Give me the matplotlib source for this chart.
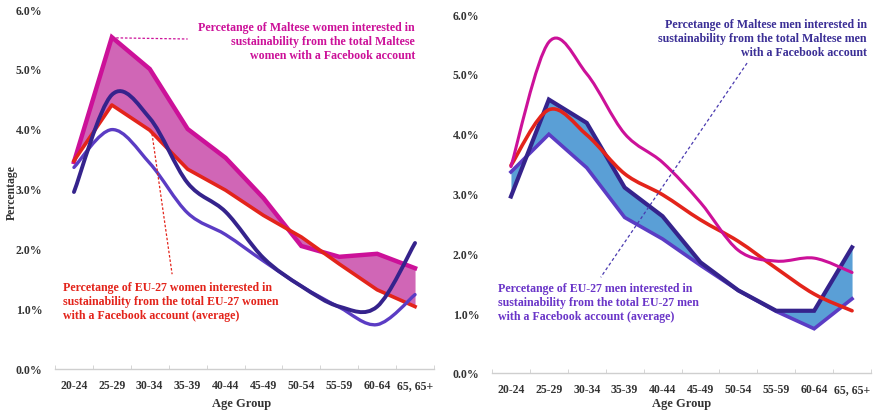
import numpy as np
import matplotlib
matplotlib.use("Agg")
import matplotlib.pyplot as plt
from matplotlib.path import Path
from matplotlib.patches import PathPatch

plt.rcParams['font.family'] = ['Liberation Serif', 'DejaVu Serif']
plt.rcParams['font.weight'] = 'bold'

age_groups = ["20-24", "25-29", "30-34", "35-39", "40-44", "45-49",
              "50-54", "55-59", "60-64", "65, 65+"]
maltese_women = [3.45, 5.53, 5.00, 4.00, 3.52, 2.85, 2.05, 1.87, 1.92, 1.68]
eu_women = [3.47, 4.40, 3.98, 3.33, 2.98, 2.56, 2.20, 1.75, 1.32, 1.04]
maltese_men = [2.95, 4.57, 4.18, 3.10, 2.62, 1.85, 1.38, 1.04, 1.04, 2.10]
eu_men = [3.36, 3.99, 3.43, 2.60, 2.24, 1.80, 1.38, 1.03, 0.74, 1.24]
y_ticks = [0, 1, 2, 3, 4, 5, 6]
y_tick_labels = ["0.0%", "1.0%", "2.0%", "3.0%", "4.0%", "5.0%", "6.0%"]

MAGENTA = "#CC1199"
PINK_FILL = "#D066B6"
RED = "#E3241B"
NAVY = "#35238C"
PURPLE = "#5B3CC4"
BLUE_FILL = "#5A9FD6"
AXIS_TXT = "#333333"


def smooth_line(ax, xs, ys, color, lw, z):
    """Catmull-Rom smoothed line drawn as a Bezier path in data coords."""
    pts = np.column_stack([xs, ys]).astype(float)
    n = len(pts)
    verts = [pts[0]]
    codes = [Path.MOVETO]
    for i in range(n - 1):
        p0 = pts[i - 1] if i > 0 else pts[i]
        p1 = pts[i]
        p2 = pts[i + 1]
        p3 = pts[i + 2] if i + 2 < n else pts[i + 1]
        c1 = p1 + (p2 - p0) / 6.0
        c2 = p2 - (p3 - p1) / 6.0
        verts += [c1, c2, p2]
        codes += [Path.CURVE4] * 3
    patch = PathPatch(Path(verts, codes), facecolor='none', edgecolor=color,
                      lw=lw, zorder=z, capstyle='round', joinstyle='round')
    ax.add_patch(patch)


fig = plt.figure(figsize=(8.74, 4.14), dpi=100)
W, H = 874.0, 414.0
ax1 = fig.add_axes([55 / W, (H - 370) / H, (434 - 55) / W, (370 - 10) / H])
ax2 = fig.add_axes([492 / W, (H - 374) / H, (871 - 492) / W, (374 - 15) / H])

x = np.arange(len(age_groups))

for ax in (ax1, ax2):
    ax.set_xlim(-0.5, len(age_groups) - 0.5)
    ax.set_ylim(0, 6)
    for s in ['top', 'right', 'left']:
        ax.spines[s].set_visible(False)
    ax.spines['bottom'].set_color('#CFCFCF')
    ax.spines['bottom'].set_linewidth(1.0)
    ax.set_yticks(y_ticks)
    ax.set_yticklabels(y_tick_labels)
    ax.set_xticks(x)
    ax.set_xticklabels(age_groups)
    ax.set_xticks(np.arange(-0.5, len(age_groups), 1.0), minor=True)
    ax.tick_params(axis='x', which='major', length=0, pad=7, labelsize=8.5)
    ax.tick_params(axis='x', which='minor', length=3, direction='in', color='#CFCFCF')
    ax.tick_params(axis='y', length=0, pad=9, labelsize=8.5)
    for lab in ax.get_xticklabels() + ax.get_yticklabels():
        lab.set_fontweight('bold')
        lab.set_color(AXIS_TXT)

# axis titles
fig.text(242 / W, 1 - 404 / H, "Age Group", ha='center', va='center',
         fontsize=9, fontweight='bold', color=AXIS_TXT)
fig.text(682 / W, 1 - 404 / H, "Age Group", ha='center', va='center',
         fontsize=9, fontweight='bold', color=AXIS_TXT)
fig.text(12 / W, 1 - 193 / H, "Percentage", ha='center', va='center', rotation=90,
         fontsize=8.5, fontweight='bold', color=AXIS_TXT)

ANN_FS = 8.6
ANN_LS = 1.22

# ---- Left panel (women) ----
ax1.fill_between(x, maltese_women, eu_women, color=PINK_FILL, lw=0, zorder=1, interpolate=True)
ax1.plot(x, maltese_women, color=MAGENTA, lw=3.2, zorder=2, solid_joinstyle='miter')
ax1.plot(x, eu_women, color=RED, lw=2.6, zorder=3, solid_joinstyle='round')
smooth_line(ax1, x, eu_men, PURPLE, 2.4, 4)
smooth_line(ax1, x, maltese_men, NAVY, 2.8, 5)

ax1.text(9.0, 5.80, "Percetange of Maltese women interested in\nsustainability from the total Maltese\nwomen with a Facebook account",
         ha='right', va='top', multialignment='right', color=MAGENTA, fontsize=ANN_FS,
         fontweight='bold', linespacing=ANN_LS)
ax1.plot([1.0, 3.0], [5.52, 5.5], color=MAGENTA, lw=0.9, ls=(0, (2, 1.5)), zorder=6)
ax1.text(-0.29, 1.47, "Percetange of EU-27 women interested in\nsustainability from the total EU-27 women\nwith a Facebook account (average)",
         ha='left', va='top', color=RED, fontsize=ANN_FS, fontweight='bold', linespacing=ANN_LS)
ax1.plot([2.06, 2.59], [3.92, 1.58], color=RED, lw=0.9, ls=(0, (2, 1.5)), zorder=6)

# ---- Right panel (men) ----
ax2.fill_between(x, maltese_men, eu_men, color=BLUE_FILL, lw=0, zorder=1, interpolate=True)
ax2.plot(x, eu_men, color=PURPLE, lw=2.6, zorder=2, solid_joinstyle='miter')
ax2.plot(x, maltese_men, color=NAVY, lw=3.0, zorder=3, solid_joinstyle='miter')
smooth_line(ax2, x, eu_women, RED, 2.6, 4)
smooth_line(ax2, x, maltese_women, MAGENTA, 2.2, 5)

ax2.text(9.39, 5.93, "Percetange of Maltese men interested in\nsustainability from the total Maltese men\nwith a Facebook account",
         ha='right', va='top', multialignment='right', color="#3B2F96", fontsize=ANN_FS,
         fontweight='bold', linespacing=ANN_LS)
ax2.text(-0.34, 1.52, "Percetange of EU-27 men interested in\nsustainability from the total EU-27 men\nwith a Facebook account (average)",
         ha='left', va='top', color="#6A35C8", fontsize=ANN_FS, fontweight='bold', linespacing=ANN_LS)
ax2.plot([6.23, 2.37], [5.18, 1.6], color="#4A3AB0", lw=0.9, ls=(0, (2.5, 2)), zorder=6)

fig.savefig("out.png", dpi=100)
